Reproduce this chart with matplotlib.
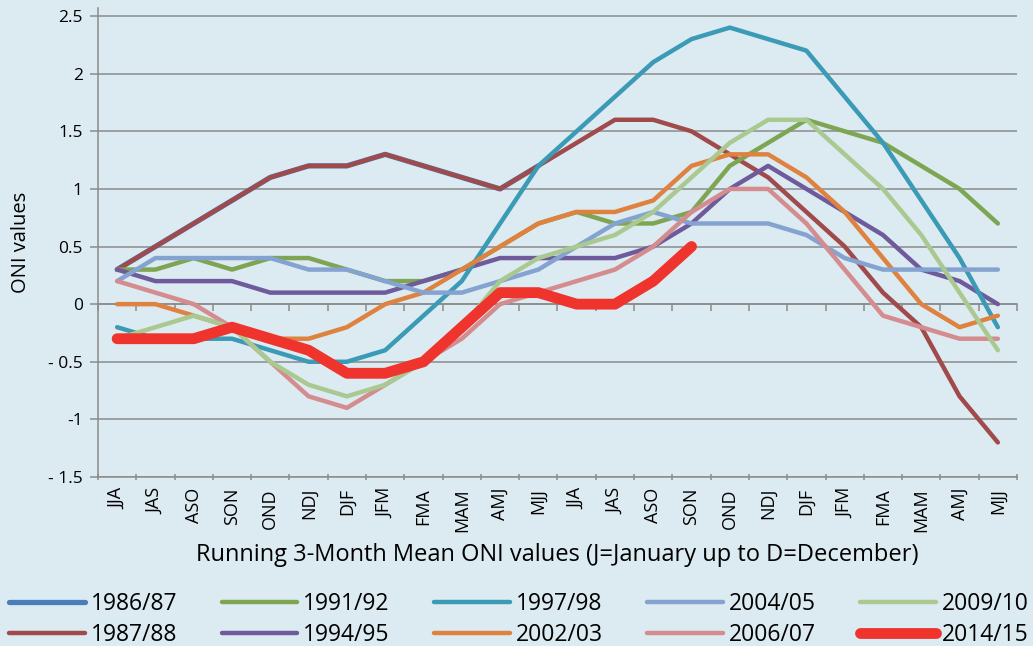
import matplotlib
matplotlib.use("Agg")
import matplotlib.pyplot as plt
import numpy as np

# 3-month running seasons, two years from JJA to MJJ
seasons = ["JJA", "JAS", "ASO", "SON", "OND", "NDJ", "DJF", "JFM", "FMA", "MAM", "AMJ", "MJJ",
           "JJA", "JAS", "ASO", "SON", "OND", "NDJ", "DJF", "JFM", "FMA", "MAM", "AMJ", "MJJ"]

oni_1986_87 = [0.3, 0.5, 0.7, 0.9, 1.1, 1.2, 1.2, 1.3, 1.2, 1.1, 1.0, 1.2]
oni_1987_88 = [0.3, 0.5, 0.7, 0.9, 1.1, 1.2, 1.2, 1.3, 1.2, 1.1, 1.0, 1.2,
               1.4, 1.6, 1.6, 1.5, 1.3, 1.1, 0.8, 0.5, 0.1, -0.2, -0.8, -1.2]
oni_1991_92 = [0.3, 0.3, 0.4, 0.3, 0.4, 0.4, 0.3, 0.2, 0.2, 0.3, 0.5, 0.7,
               0.8, 0.7, 0.7, 0.8, 1.2, 1.4, 1.6, 1.5, 1.4, 1.2, 1.0, 0.7]
oni_1994_95 = [0.3, 0.2, 0.2, 0.2, 0.1, 0.1, 0.1, 0.1, 0.2, 0.3, 0.4, 0.4,
               0.4, 0.4, 0.5, 0.7, 1.0, 1.2, 1.0, 0.8, 0.6, 0.3, 0.2, 0.0]
oni_1997_98 = [-0.2, -0.3, -0.3, -0.3, -0.4, -0.5, -0.5, -0.4, -0.1, 0.2, 0.7, 1.2,
               1.5, 1.8, 2.1, 2.3, 2.4, 2.3, 2.2, 1.8, 1.4, 0.9, 0.4, -0.2]
oni_2002_03 = [0.0, 0.0, -0.1, -0.2, -0.3, -0.3, -0.2, 0.0, 0.1, 0.3, 0.5, 0.7,
               0.8, 0.8, 0.9, 1.2, 1.3, 1.3, 1.1, 0.8, 0.4, 0.0, -0.2, -0.1]
oni_2004_05 = [0.2, 0.4, 0.4, 0.4, 0.4, 0.3, 0.3, 0.2, 0.1, 0.1, 0.2, 0.3,
               0.5, 0.7, 0.8, 0.7, 0.7, 0.7, 0.6, 0.4, 0.3, 0.3, 0.3, 0.3]
oni_2006_07 = [0.2, 0.1, 0.0, -0.2, -0.5, -0.8, -0.9, -0.7, -0.5, -0.3, 0.0, 0.1,
               0.2, 0.3, 0.5, 0.8, 1.0, 1.0, 0.7, 0.3, -0.1, -0.2, -0.3, -0.3]
oni_2009_10 = [-0.3, -0.2, -0.1, -0.2, -0.5, -0.7, -0.8, -0.7, -0.5, -0.2, 0.2, 0.4,
               0.5, 0.6, 0.8, 1.1, 1.4, 1.6, 1.6, 1.3, 1.0, 0.6, 0.1, -0.4]
oni_2014_15 = [-0.3, -0.3, -0.3, -0.2, -0.3, -0.4, -0.6, -0.6, -0.5, -0.2, 0.1, 0.1,
               0.0, 0.0, 0.2, 0.5]

labels = ["1986/87", "1987/88", "1991/92", "1994/95", "1997/98",
          "2002/03", "2004/05", "2006/07", "2009/10", "2014/15"]
series = [oni_1986_87, oni_1987_88, oni_1991_92, oni_1994_95, oni_1997_98,
          oni_2002_03, oni_2004_05, oni_2006_07, oni_2009_10, oni_2014_15]
colors = ["#4A7EBB", "#A04A4B", "#7DA552", "#6F5B9B", "#3B9AB5",
          "#DF8240", "#84A3D0", "#D48C8E", "#AAC991", "#EE342C"]
widths = [3.8] + [3.2] * 8 + [7.8]

bg = "#DCEAF1"
grid_col = "#8C8C8C"
font = "Open Sans"
plt.rcParams["font.family"] = [font, "DejaVu Sans"]

fig = plt.figure(figsize=(10.33, 6.46), dpi=100, facecolor=bg)
ax = fig.add_axes([98 / 1033, 169 / 646, (1017 - 98) / 1033, (477 - 8) / 646])
ax.set_facecolor(bg)

for vals, lab, c, lw in zip(series, labels, colors, widths):
    ax.plot(range(len(vals)), vals, color=c, lw=lw, label=lab,
            solid_capstyle="round", solid_joinstyle="round")

ax.set_xlim(-0.5, len(seasons) - 0.5)
ax.set_ylim(-1.5, 2.57)

yt = [-1.5, -1, -0.5, 0, 0.5, 1, 1.5, 2, 2.5]
ytl = ["- 1.5", "-1", "- 0.5", "0", "0.5", "1", "1.5", "2", "2.5"]
ax.set_yticks(yt)
ax.set_yticklabels(ytl, fontsize=12.5)
ax.yaxis.grid(True, color=grid_col, lw=1.1)
ax.set_axisbelow(True)
ax.tick_params(axis="y", length=6, width=1.1, color=grid_col, pad=5)

ax.set_xticks(range(len(seasons)))
ax.set_xticklabels(seasons, rotation=90, fontsize=13)
ax.set_xticks(np.arange(-0.5, len(seasons)), minor=True)
ax.tick_params(axis="x", which="major", length=0, pad=8)
ax.tick_params(axis="x", which="minor", length=4, width=1.1, color=grid_col, direction="inout")

for s in ["top", "right"]:
    ax.spines[s].set_visible(False)
for s in ["left", "bottom"]:
    ax.spines[s].set_color(grid_col)
    ax.spines[s].set_linewidth(1.1)

# category axis crossing at zero
sec = ax.secondary_xaxis(0, transform=ax.transData)
sec.set_xticks(np.arange(-0.5, len(seasons)))
sec.set_xticklabels([])
sec.tick_params(length=5, width=1.1, color=grid_col, direction="out")
sec.spines["bottom"].set_color(grid_col)
sec.spines["bottom"].set_linewidth(1.1)
sec.set_zorder(0.5)

ax.set_ylabel("ONI values", fontsize=14.5, labelpad=12)
ax.set_xlabel("Running 3-Month Mean ONI values (J=January up to D=December)", fontsize=17, labelpad=8)

fig.legend(loc="lower left", bbox_to_anchor=(0.0, -0.016), ncol=5, frameon=False,
           fontsize=16.5, handlelength=3.3, handletextpad=0.25, columnspacing=1.95,
           labelspacing=0.3, borderaxespad=0.2, borderpad=0.2)

fig.savefig("out.png", dpi=100, facecolor=bg)
